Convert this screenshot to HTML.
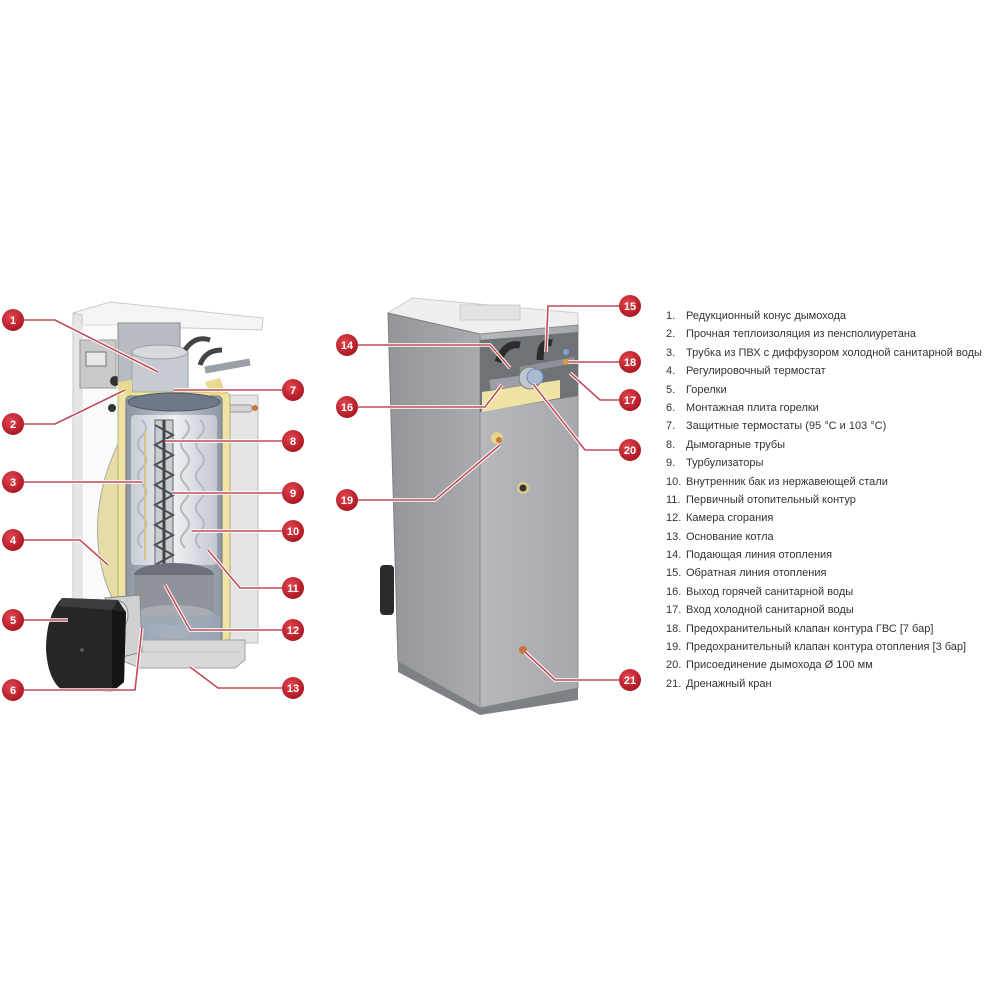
<!DOCTYPE html>
<html><head><meta charset="utf-8"><style>
html,body{margin:0;padding:0;background:#fff;}
svg{display:block}
.lg{font-family:"Liberation Sans",sans-serif;font-size:11px;fill:#333;}
.bn{font-family:"Liberation Sans",sans-serif;font-size:11px;font-weight:bold;fill:#fff;text-anchor:middle;}
.ld{fill:none;stroke:#c24a55;stroke-width:1.6;}
.lh{fill:none;stroke:#fff;stroke-width:3.6;}
</style></head><body>
<svg width="1000" height="1000" viewBox="0 0 1000 1000" xmlns="http://www.w3.org/2000/svg">
<defs>
<radialGradient id="bg" cx="40%" cy="35%" r="70%"><stop offset="0" stop-color="#e2454f"/><stop offset="1" stop-color="#a8141f"/></radialGradient>
<linearGradient id="tank" x1="0" x2="1"><stop offset="0" stop-color="#8d96a2"/><stop offset=".5" stop-color="#c4cad2"/><stop offset="1" stop-color="#8e97a3"/></linearGradient>
<linearGradient id="inner" x1="0" x2="1"><stop offset="0" stop-color="#c9ced6"/><stop offset=".5" stop-color="#eef0f3"/><stop offset="1" stop-color="#c3c8d0"/></linearGradient>
<linearGradient id="side" x1="0" x2="1"><stop offset="0" stop-color="#939598"/><stop offset="1" stop-color="#a9abae"/></linearGradient>
<linearGradient id="front" x1="0" x2="1"><stop offset="0" stop-color="#b6b8bb"/><stop offset="1" stop-color="#a6a8ab"/></linearGradient>
</defs>

<!-- ===== LEFT UNIT ===== -->
<polygon points="73,313 110,302 263,318 262,330 73,325" fill="#f4f4f4" stroke="#ccc" stroke-width="1"/>
<polygon points="73,313 82,315 82,655 73,655" fill="#e6e6e6" stroke="#c8c8c8" stroke-width="1"/>
<rect x="82" y="325" width="38" height="330" fill="#fafafa" stroke="#ddd"/>
<rect x="80" y="340" width="36" height="48" fill="#c9c9c9" stroke="#999"/>
<rect x="86" y="352" width="20" height="14" fill="#e8e8e8" stroke="#777"/>
<circle cx="115" cy="381" r="5" fill="#333"/>
<circle cx="112" cy="408" r="4" fill="#333"/>
<rect x="226" y="395" width="32" height="248" fill="#e3e4e6" stroke="#bbb"/>
<rect x="218" y="405" width="34" height="7" rx="3" fill="#d4d4d4" stroke="#999"/>
<circle cx="255" cy="408" r="3" fill="#c9763c"/>
<rect x="118" y="323" width="62" height="60" fill="#b8bcc2" stroke="#8a8d92"/>
<rect x="132" y="352" width="56" height="44" fill="#c6cbd1" stroke="#9aa0a7"/>
<ellipse cx="160" cy="352" rx="28" ry="7" fill="#d6dadf" stroke="#9aa0a7"/>
<path d="M185 350 Q195 335 210 340" stroke="#444" stroke-width="5" fill="none"/>
<path d="M200 365 Q205 350 222 350" stroke="#444" stroke-width="5" fill="none"/>
<line x1="205" y1="370" x2="250" y2="362" stroke="#9aa0a7" stroke-width="7"/>
<path d="M120 440 Q90 500 100 560 Q108 600 125 615 L125 440 Z" fill="#e6dca6" stroke="#aaa"/>
<rect x="118" y="392" width="112" height="250" rx="6" fill="#efe3a3" stroke="#b9ad70"/>
<path d="M118 392 L118 382 L132 380 L132 395 Z" fill="#e8d98e"/>
<path d="M205 382 L220 378 L226 395 L210 395 Z" fill="#e8d98e"/>
<rect x="126" y="396" width="96" height="246" rx="4" fill="url(#tank)" stroke="#6e7782"/>
<ellipse cx="174" cy="402" rx="46" ry="9" fill="#6e7886" stroke="#4f5864"/>
<rect x="131" y="415" width="86" height="150" rx="4" fill="url(#inner)"/>
<g fill="none" stroke="#b4bac3" stroke-width="2">
<path d="M142 420 q8 8 0 16 q-8 8 0 16 q8 8 0 16 q-8 8 0 16 q8 8 0 16 q-8 8 0 16 q8 8 0 16 q-8 8 0 16"/>
<path d="M200 420 q8 8 0 16 q-8 8 0 16 q8 8 0 16 q-8 8 0 16 q8 8 0 16 q-8 8 0 16 q8 8 0 16 q-8 8 0 16"/>
<path d="M185 420 q8 8 0 16 q-8 8 0 16 q8 8 0 16 q-8 8 0 16 q8 8 0 16 q-8 8 0 16 q8 8 0 16 q-8 8 0 16"/>
</g>
<rect x="155" y="420" width="18" height="160" fill="#c7ccd3" stroke="#666"/>
<path d="M155 425 l18 10 l-18 10 l18 10 l-18 10 l18 10 l-18 10 l18 10 l-18 10 l18 10 l-18 10 l18 10 l-18 10 l18 10 l-18 10" fill="none" stroke="#4c525a" stroke-width="2"/>
<line x1="164" y1="420" x2="164" y2="580" stroke="#444" stroke-width="3"/>
<line x1="145" y1="430" x2="145" y2="560" stroke="#d4c37a" stroke-width="2"/>
<ellipse cx="174" cy="575" rx="40" ry="12" fill="#6b707a"/>
<rect x="134" y="575" width="80" height="40" fill="#8f949c"/>
<ellipse cx="174" cy="615" rx="40" ry="10" fill="#a8adb4"/>
<rect x="128" y="615" width="92" height="25" fill="#9ba6b6" opacity=".7"/>
<polygon points="120,640 245,640 245,660 235,668 140,668 120,660" fill="#d8d8d8" stroke="#a0a0a0"/>
<line x1="130" y1="652" x2="240" y2="652" stroke="#bbb"/>
<!-- burner -->
<polygon points="105,598 140,595 142,652 110,660" fill="#d0d0d2" stroke="#888"/>
<ellipse cx="118" cy="615" rx="10" ry="14" fill="#e8e8ea" stroke="#888"/>
<path d="M62 598 L118 600 L126 612 L124 682 L112 692 L62 690 Q48 680 46 650 Q46 615 62 598 Z" fill="#262626"/>
<polygon points="112,610 126,612 124,682 112,692" fill="#141414"/>
<polygon points="62,598 118,600 112,610 58,606" fill="#3d3d3d"/>
<circle cx="82" cy="650" r="2" fill="#555"/>

<!-- ===== RIGHT UNIT ===== -->
<polygon points="388,313 412,298 578,313 578,325 480,334" fill="#efefef" stroke="#ccc"/>
<rect x="460" y="305" width="60" height="15" fill="#e2e2e2" stroke="#ccc"/>
<polygon points="388,313 480,334 480,708 398,662" fill="url(#side)" stroke="#7c7f83"/>
<polygon points="480,334 578,325 578,688 480,708" fill="url(#front)" stroke="#8a8d91"/>
<polygon points="480,340 578,332 578,396 480,412" fill="#6f7276"/>
<polygon points="482,392 560,380 560,398 482,412" fill="#efe3a3"/>
<path d="M498 362 Q505 342 520 345" stroke="#2c2c2c" stroke-width="7" fill="none"/>
<path d="M540 360 Q540 340 552 343" stroke="#2c2c2c" stroke-width="7" fill="none"/>
<line x1="490" y1="385" x2="540" y2="378" stroke="#9aa0a6" stroke-width="10"/>
<line x1="520" y1="370" x2="575" y2="360" stroke="#8d9298" stroke-width="6"/>
<circle cx="530" cy="378" r="11" fill="#c1c6cc" stroke="#7b8188"/>
<circle cx="535" cy="377" r="8" fill="#aab9cf" stroke="#6a8cc0"/>
<circle cx="566" cy="362" r="3" fill="#d79b3b"/>
<circle cx="566" cy="352" r="3" fill="#7aa3d0"/>
<circle cx="497" cy="438" r="6" fill="#e5d48c"/>
<circle cx="499" cy="440" r="3" fill="#c9763c"/>
<circle cx="523" cy="488" r="6" fill="#d9cc8d"/>
<circle cx="523" cy="488" r="3.5" fill="#333"/>
<circle cx="523" cy="650" r="4" fill="#c9763c"/>
<polygon points="398,662 480,708 578,688 578,700 480,715 398,672" fill="#7d8085"/>
<rect x="380" y="565" width="14" height="50" rx="4" fill="#2b2b2b"/>

<!-- ===== LEADERS ===== -->
<g>
<path class="lh" d="M24 320 H55 L158 372"/><path class="ld" d="M24 320 H55 L158 372"/>
<path class="lh" d="M24 424 H55 L125 390"/><path class="ld" d="M24 424 H55 L125 390"/>
<path class="lh" d="M24 482 H142"/><path class="ld" d="M24 482 H142"/>
<path class="lh" d="M24 540 H80 L108 565"/><path class="ld" d="M24 540 H80 L108 565"/>
<path class="lh" d="M24 620 H68"/><path class="ld" d="M24 620 H68"/>
<path class="lh" d="M24 690 H135 L142 628"/><path class="ld" d="M24 690 H135 L142 628"/>
<path class="lh" d="M282 390 H174"/><path class="ld" d="M282 390 H174"/>
<path class="lh" d="M282 441 H165"/><path class="ld" d="M282 441 H165"/>
<path class="lh" d="M282 493 H172"/><path class="ld" d="M282 493 H172"/>
<path class="lh" d="M282 531 H192"/><path class="ld" d="M282 531 H192"/>
<path class="lh" d="M282 588 H240 L208 550"/><path class="ld" d="M282 588 H240 L208 550"/>
<path class="lh" d="M282 630 H190 L165 585"/><path class="ld" d="M282 630 H190 L165 585"/>
<path class="lh" d="M282 688 H218 L190 667"/><path class="ld" d="M282 688 H218 L190 667"/>
<path class="lh" d="M358 345 H490 L510 368"/><path class="ld" d="M358 345 H490 L510 368"/>
<path class="lh" d="M358 407 H485 L502 385"/><path class="ld" d="M358 407 H485 L502 385"/>
<path class="lh" d="M358 500 H435 L500 445"/><path class="ld" d="M358 500 H435 L500 445"/>
<path class="lh" d="M619 306 H548 L546 352"/><path class="ld" d="M619 306 H548 L546 352"/>
<path class="lh" d="M619 362 H568"/><path class="ld" d="M619 362 H568"/>
<path class="lh" d="M619 400 H600 L570 373"/><path class="ld" d="M619 400 H600 L570 373"/>
<path class="lh" d="M619 450 H585 L533 384"/><path class="ld" d="M619 450 H585 L533 384"/>
<path class="lh" d="M619 680 H555 L525 652"/><path class="ld" d="M619 680 H555 L525 652"/>
</g>

<g>
<circle cx="13" cy="320" r="11" fill="url(#bg)"/><text class="bn" x="13" y="324">1</text>
<circle cx="13" cy="424" r="11" fill="url(#bg)"/><text class="bn" x="13" y="428">2</text>
<circle cx="13" cy="482" r="11" fill="url(#bg)"/><text class="bn" x="13" y="486">3</text>
<circle cx="13" cy="540" r="11" fill="url(#bg)"/><text class="bn" x="13" y="544">4</text>
<circle cx="13" cy="620" r="11" fill="url(#bg)"/><text class="bn" x="13" y="624">5</text>
<circle cx="13" cy="690" r="11" fill="url(#bg)"/><text class="bn" x="13" y="694">6</text>
<circle cx="293" cy="390" r="11" fill="url(#bg)"/><text class="bn" x="293" y="394">7</text>
<circle cx="293" cy="441" r="11" fill="url(#bg)"/><text class="bn" x="293" y="445">8</text>
<circle cx="293" cy="493" r="11" fill="url(#bg)"/><text class="bn" x="293" y="497">9</text>
<circle cx="293" cy="531" r="11" fill="url(#bg)"/><text class="bn" x="293" y="535">10</text>
<circle cx="293" cy="588" r="11" fill="url(#bg)"/><text class="bn" x="293" y="592">11</text>
<circle cx="293" cy="630" r="11" fill="url(#bg)"/><text class="bn" x="293" y="634">12</text>
<circle cx="293" cy="688" r="11" fill="url(#bg)"/><text class="bn" x="293" y="692">13</text>
<circle cx="347" cy="345" r="11" fill="url(#bg)"/><text class="bn" x="347" y="349">14</text>
<circle cx="630" cy="306" r="11" fill="url(#bg)"/><text class="bn" x="630" y="310">15</text>
<circle cx="347" cy="407" r="11" fill="url(#bg)"/><text class="bn" x="347" y="411">16</text>
<circle cx="630" cy="400" r="11" fill="url(#bg)"/><text class="bn" x="630" y="404">17</text>
<circle cx="630" cy="362" r="11" fill="url(#bg)"/><text class="bn" x="630" y="366">18</text>
<circle cx="347" cy="500" r="11" fill="url(#bg)"/><text class="bn" x="347" y="504">19</text>
<circle cx="630" cy="450" r="11" fill="url(#bg)"/><text class="bn" x="630" y="454">20</text>
<circle cx="630" cy="680" r="11" fill="url(#bg)"/><text class="bn" x="630" y="684">21</text>
</g>

<g class="lg">
<text x="666" y="319">1.</text><text x="686" y="319">Редукционный конус дымохода</text>
<text x="666" y="337">2.</text><text x="686" y="337">Прочная теплоизоляция из пенсполиуретана</text>
<text x="666" y="356">3.</text><text x="686" y="356">Трубка из ПВХ с диффузором холодной санитарной воды</text>
<text x="666" y="374">4.</text><text x="686" y="374">Регулировочный термостат</text>
<text x="666" y="393">5.</text><text x="686" y="393">Горелки</text>
<text x="666" y="411">6.</text><text x="686" y="411">Монтажная плита горелки</text>
<text x="666" y="429">7.</text><text x="686" y="429">Защитные термостаты (95 °C и 103 °C)</text>
<text x="666" y="448">8.</text><text x="686" y="448">Дымогарные трубы</text>
<text x="666" y="466">9.</text><text x="686" y="466">Турбулизаторы</text>
<text x="666" y="485">10.</text><text x="686" y="485">Внутренник бак из нержавеющей стали</text>
<text x="666" y="503">11.</text><text x="686" y="503">Первичный отопительный контур</text>
<text x="666" y="521">12.</text><text x="686" y="521">Камера сгорания</text>
<text x="666" y="540">13.</text><text x="686" y="540">Основание котла</text>
<text x="666" y="558">14.</text><text x="686" y="558">Подающая линия отопления</text>
<text x="666" y="576">15.</text><text x="686" y="576">Обратная линия отопления</text>
<text x="666" y="595">16.</text><text x="686" y="595">Выход горячей санитарной воды</text>
<text x="666" y="613">17.</text><text x="686" y="613">Вход холодной санитарной воды</text>
<text x="666" y="632">18.</text><text x="686" y="632">Предохранительный клапан контура ГВС [7 бар]</text>
<text x="666" y="650">19.</text><text x="686" y="650">Предохранительный клапан контура отопления [3 бар]</text>
<text x="666" y="668">20.</text><text x="686" y="668">Присоединение дымохода Ø 100 мм</text>
<text x="666" y="687">21.</text><text x="686" y="687">Дренажный кран</text>
</g>
</svg>
</body></html>
